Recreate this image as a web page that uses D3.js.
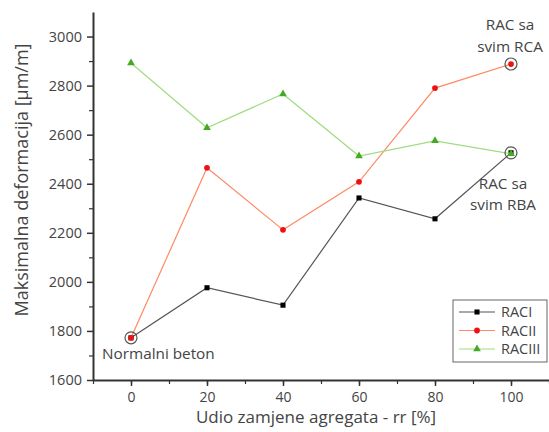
<!DOCTYPE html>
<html>
<head>
<meta charset="utf-8">
<script src="https://cdn.jsdelivr.net/npm/d3@7"></script>
<style>
  body { margin: 0; background: #fff; }
  svg text { font-family: 'Open Sans', 'Noto Sans', sans-serif; fill: #444; }
</style>
</head>
<body>
<div id="chart"></div>
<script>
const xValues = [0, 20, 40, 60, 80, 100]
const raci = [1772, 1976, 1905, 2342, 2257, 2526]
const racii = [1772, 2465, 2212, 2408, 2790, 2888]
const raciii = [2892, 2628, 2766, 2513, 2575, 2522]
const seriesNames = ['RACI', 'RACII', 'RACIII']
const xTicks = [0, 20, 40, 60, 80, 100]
const yTicks = [1600, 1800, 2000, 2200, 2400, 2600, 2800, 3000]

const width = 549
const height = 432
const margin = { top: 12, right: 0, bottom: 52, left: 93 }

const svg = d3.select('#chart')
  .append('svg')
  .attr('width', width)
  .attr('height', height)

const x = d3.scaleLinear().domain([-10, 110]).range([margin.left, width - margin.right])
const y = d3.scaleLinear().domain([1600, 3100]).range([height - margin.bottom, margin.top])

// minor ticks
svg.append('g')
  .attr('transform', `translate(0,${y(1600)})`)
  .call(d3.axisBottom(x).tickValues(d3.range(-10, 111, 10)).tickSize(4))
  .call(g => g.select('.domain').remove())
  .call(g => g.selectAll('text').remove())
  .call(g => g.selectAll('line').attr('stroke', '#333').attr('stroke-width', 1.2))
svg.append('g')
  .attr('transform', `translate(${x(-10)},0)`)
  .call(d3.axisLeft(y).tickValues(d3.range(1700, 3100, 200)).tickSize(4))
  .call(g => g.select('.domain').remove())
  .call(g => g.selectAll('text').remove())
  .call(g => g.selectAll('line').attr('stroke', '#333').attr('stroke-width', 1.2))

const xAxis = svg.append('g')
  .attr('transform', `translate(0,${y(1600)})`)
  .call(d3.axisBottom(x).tickValues(xTicks).tickSize(6).tickSizeOuter(0).tickPadding(6).tickFormat(d3.format('d')))
xAxis.select('.domain').attr('stroke', '#333').attr('stroke-width', 2)
xAxis.selectAll('line').attr('stroke', '#333').attr('stroke-width', 1.5)
xAxis.selectAll('text').attr('font-size', 14).style('fill', '#444')

const yAxis = svg.append('g')
  .attr('transform', `translate(${x(-10)},0)`)
  .call(d3.axisLeft(y).tickValues(yTicks).tickSize(6).tickSizeOuter(0).tickPadding(5).tickFormat(d3.format('d')))
yAxis.select('.domain').attr('stroke', '#333').attr('stroke-width', 2)
yAxis.selectAll('line').attr('stroke', '#333').attr('stroke-width', 1.5)
yAxis.selectAll('text').attr('font-size', 14.5).style('fill', '#444')

svg.append('text')
  .attr('x', 316)
  .attr('y', 423)
  .attr('text-anchor', 'middle')
  .attr('font-size', 17)
  .text('Udio zamjene agregata - rr [%]')

svg.append('text')
  .attr('transform', `translate(28,${(y(1600) + margin.top) / 2 - 16}) rotate(-90)`)
  .attr('text-anchor', 'middle')
  .attr('font-size', 18)
  .text('Maksimalna deformacija [μm/m]')

const series = [
  { name: seriesNames[0], values: raci, line: '#555', fill: '#000', shape: d3.symbolSquare },
  { name: seriesNames[1], values: racii, line: '#ff8a65', fill: '#ee1111', shape: d3.symbolCircle },
  { name: seriesNames[2], values: raciii, line: '#9fdc80', fill: '#44aa22', shape: d3.symbolTriangle }
]

const line = d3.line().x(d => x(d[0])).y(d => y(d[1]))

series.forEach(s => {
  const pts = xValues.map((v, i) => [v, s.values[i]])
  svg.append('path')
    .attr('d', line(pts))
    .attr('fill', 'none')
    .attr('stroke', s.line)
    .attr('stroke-width', 1.2)
  svg.append('g')
    .selectAll('path')
    .data(pts)
    .enter()
    .append('path')
    .attr('transform', d => `translate(${x(d[0])},${y(d[1])})`)
    .attr('d', d3.symbol().type(s.shape).size(26))
    .attr('fill', s.fill)
})

// highlight circles
const highlights = [[0, racii[0]], [100, racii[5]], [100, raci[5]]]
svg.append('g')
  .selectAll('circle')
  .data(highlights)
  .enter()
  .append('circle')
  .attr('cx', d => x(d[0]))
  .attr('cy', d => y(d[1]))
  .attr('r', 6)
  .attr('fill', 'none')
  .attr('stroke', '#555')
  .attr('stroke-width', 1.2)

svg.append('text')
  .attr('x', 102)
  .attr('y', 359)
  .attr('font-size', 15.3)
  .text('Normalni beton')

const annoRca = svg.append('text')
  .attr('text-anchor', 'middle')
  .attr('font-size', 15.3)
annoRca.append('tspan').attr('x', 510).attr('y', 30).text('RAC sa')
annoRca.append('tspan').attr('x', 510).attr('y', 52).text('svim RCA')

const annoRba = svg.append('text')
  .attr('text-anchor', 'middle')
  .attr('font-size', 15.3)
annoRba.append('tspan').attr('x', 503).attr('y', 189).text('RAC sa')
annoRba.append('tspan').attr('x', 503).attr('y', 210).text('svim RBA')

// legend
const legend = svg.append('g').attr('transform', 'translate(453,300)')
legend.append('rect')
  .attr('width', 94)
  .attr('height', 62)
  .attr('fill', '#fff')
  .attr('stroke', '#666')
  .attr('stroke-width', 1)
const items = legend.selectAll('g.item')
  .data(series)
  .enter()
  .append('g')
  .attr('transform', (d, i) => `translate(0,${12 + i * 18.5})`)
items.append('line')
  .attr('x1', 6).attr('x2', 42)
  .attr('stroke', d => d.line)
  .attr('stroke-width', 1.2)
items.append('path')
  .attr('transform', 'translate(24,0)')
  .attr('d', d => d3.symbol().type(d.shape).size(26)())
  .attr('fill', d => d.fill)
items.append('text')
  .attr('x', 48)
  .attr('y', 5)
  .attr('font-size', 14.5)
  .text(d => d.name)
</script>
</body>
</html>
